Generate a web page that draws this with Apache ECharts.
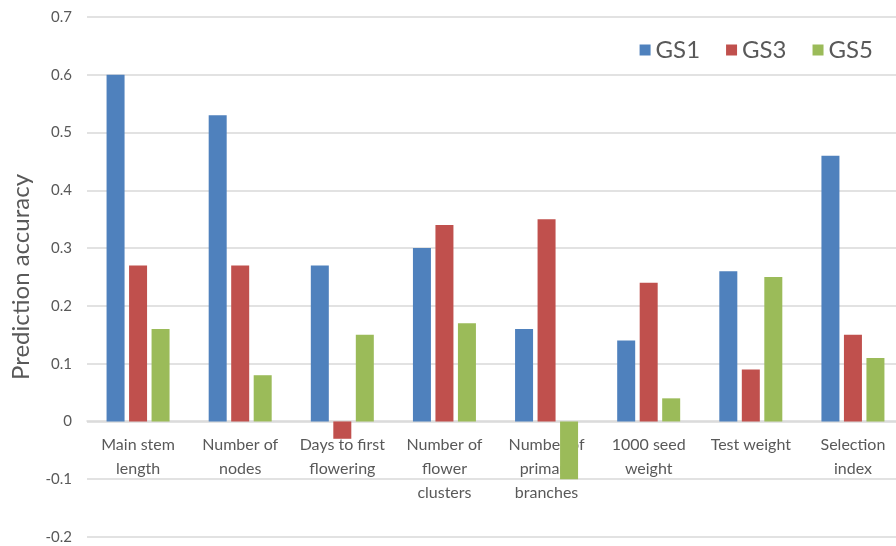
<!DOCTYPE html>
<html>
<head>
<meta charset="utf-8">
<script src="https://cdn.jsdelivr.net/npm/echarts@6/dist/echarts.min.js"></script>
<style>
  html, body { margin: 0; padding: 0; background: #fff; }
  #chart { width: 896px; height: 546px; }
</style>
</head>
<body>
<div id="chart"></div>
<script>
const categories = [
  'Main stem\nlength',
  'Number of\nnodes',
  'Days to first\nflowering',
  'Number of\nflower\nclusters',
  'Number of\nprimary\nbranches',
  '1000 seed\nweight',
  'Test weight',
  'Selection\nindex'
]
const gs1 = [0.60, 0.53, 0.27, 0.30, 0.16, 0.14, 0.26, 0.46]
const gs3 = [0.27, 0.27, -0.03, 0.34, 0.35, 0.24, 0.09, 0.15]
const gs5 = [0.16, 0.08, 0.15, 0.17, -0.10, 0.04, 0.25, 0.11]
const colors = ['#4f81bd', '#c0504d', '#9bbb59']
const font = 'Lato, "Open Sans", sans-serif'

const chart = echarts.init(document.getElementById('chart'))

const bar = (name, data) => ({
  name,
  type: 'bar',
  data,
  barWidth: 18,
  barGap: '25%',
})

const option = {
  color: colors,
  animation: false,
  textStyle: { fontFamily: font },
  legend: {
    top: 33,
    right: 18,
    icon: 'rect',
    itemWidth: 11,
    itemHeight: 11,
    itemGap: 26,
    textStyle: { fontSize: 24, color: '#595959', fontFamily: font },
    data: ['GS1', 'GS3', 'GS5']
  },
  grid: {
    left: 87,
    top: 17,
    width: 817,
    height: 520,
    outerBoundsMode: 'none',
    containLabel: false
  },
  xAxis: {
    type: 'category',
    data: categories,
    // labels sit just under the zero line, like the Excel original
    offset: -116,
    axisLine: { onZero: false, lineStyle: { color: '#d9d9d9', width: 1.5 } },
    axisTick: { show: false },
    axisLabel: {
      interval: 0,
      fontSize: 16,
      lineHeight: 24,
      margin: 12,
      color: '#595959',
      fontFamily: font
    }
  },
  yAxis: {
    type: 'value',
    min: -0.2,
    max: 0.7,
    interval: 0.1,
    name: 'Prediction accuracy',
    nameLocation: 'middle',
    nameGap: 54,
    nameTextStyle: { fontSize: 24, color: '#595959', fontFamily: font },
    axisLine: { show: false },
    axisTick: { show: false },
    axisLabel: { fontSize: 15, color: '#595959', margin: 15, fontFamily: font },
    splitLine: { lineStyle: { color: '#d9d9d9', width: 1.5 } }
  },
  series: [
    bar('GS1', gs1),
    bar('GS3', gs3),
    bar('GS5', gs5)
  ]
}

chart.setOption(option)
</script>
</body>
</html>
